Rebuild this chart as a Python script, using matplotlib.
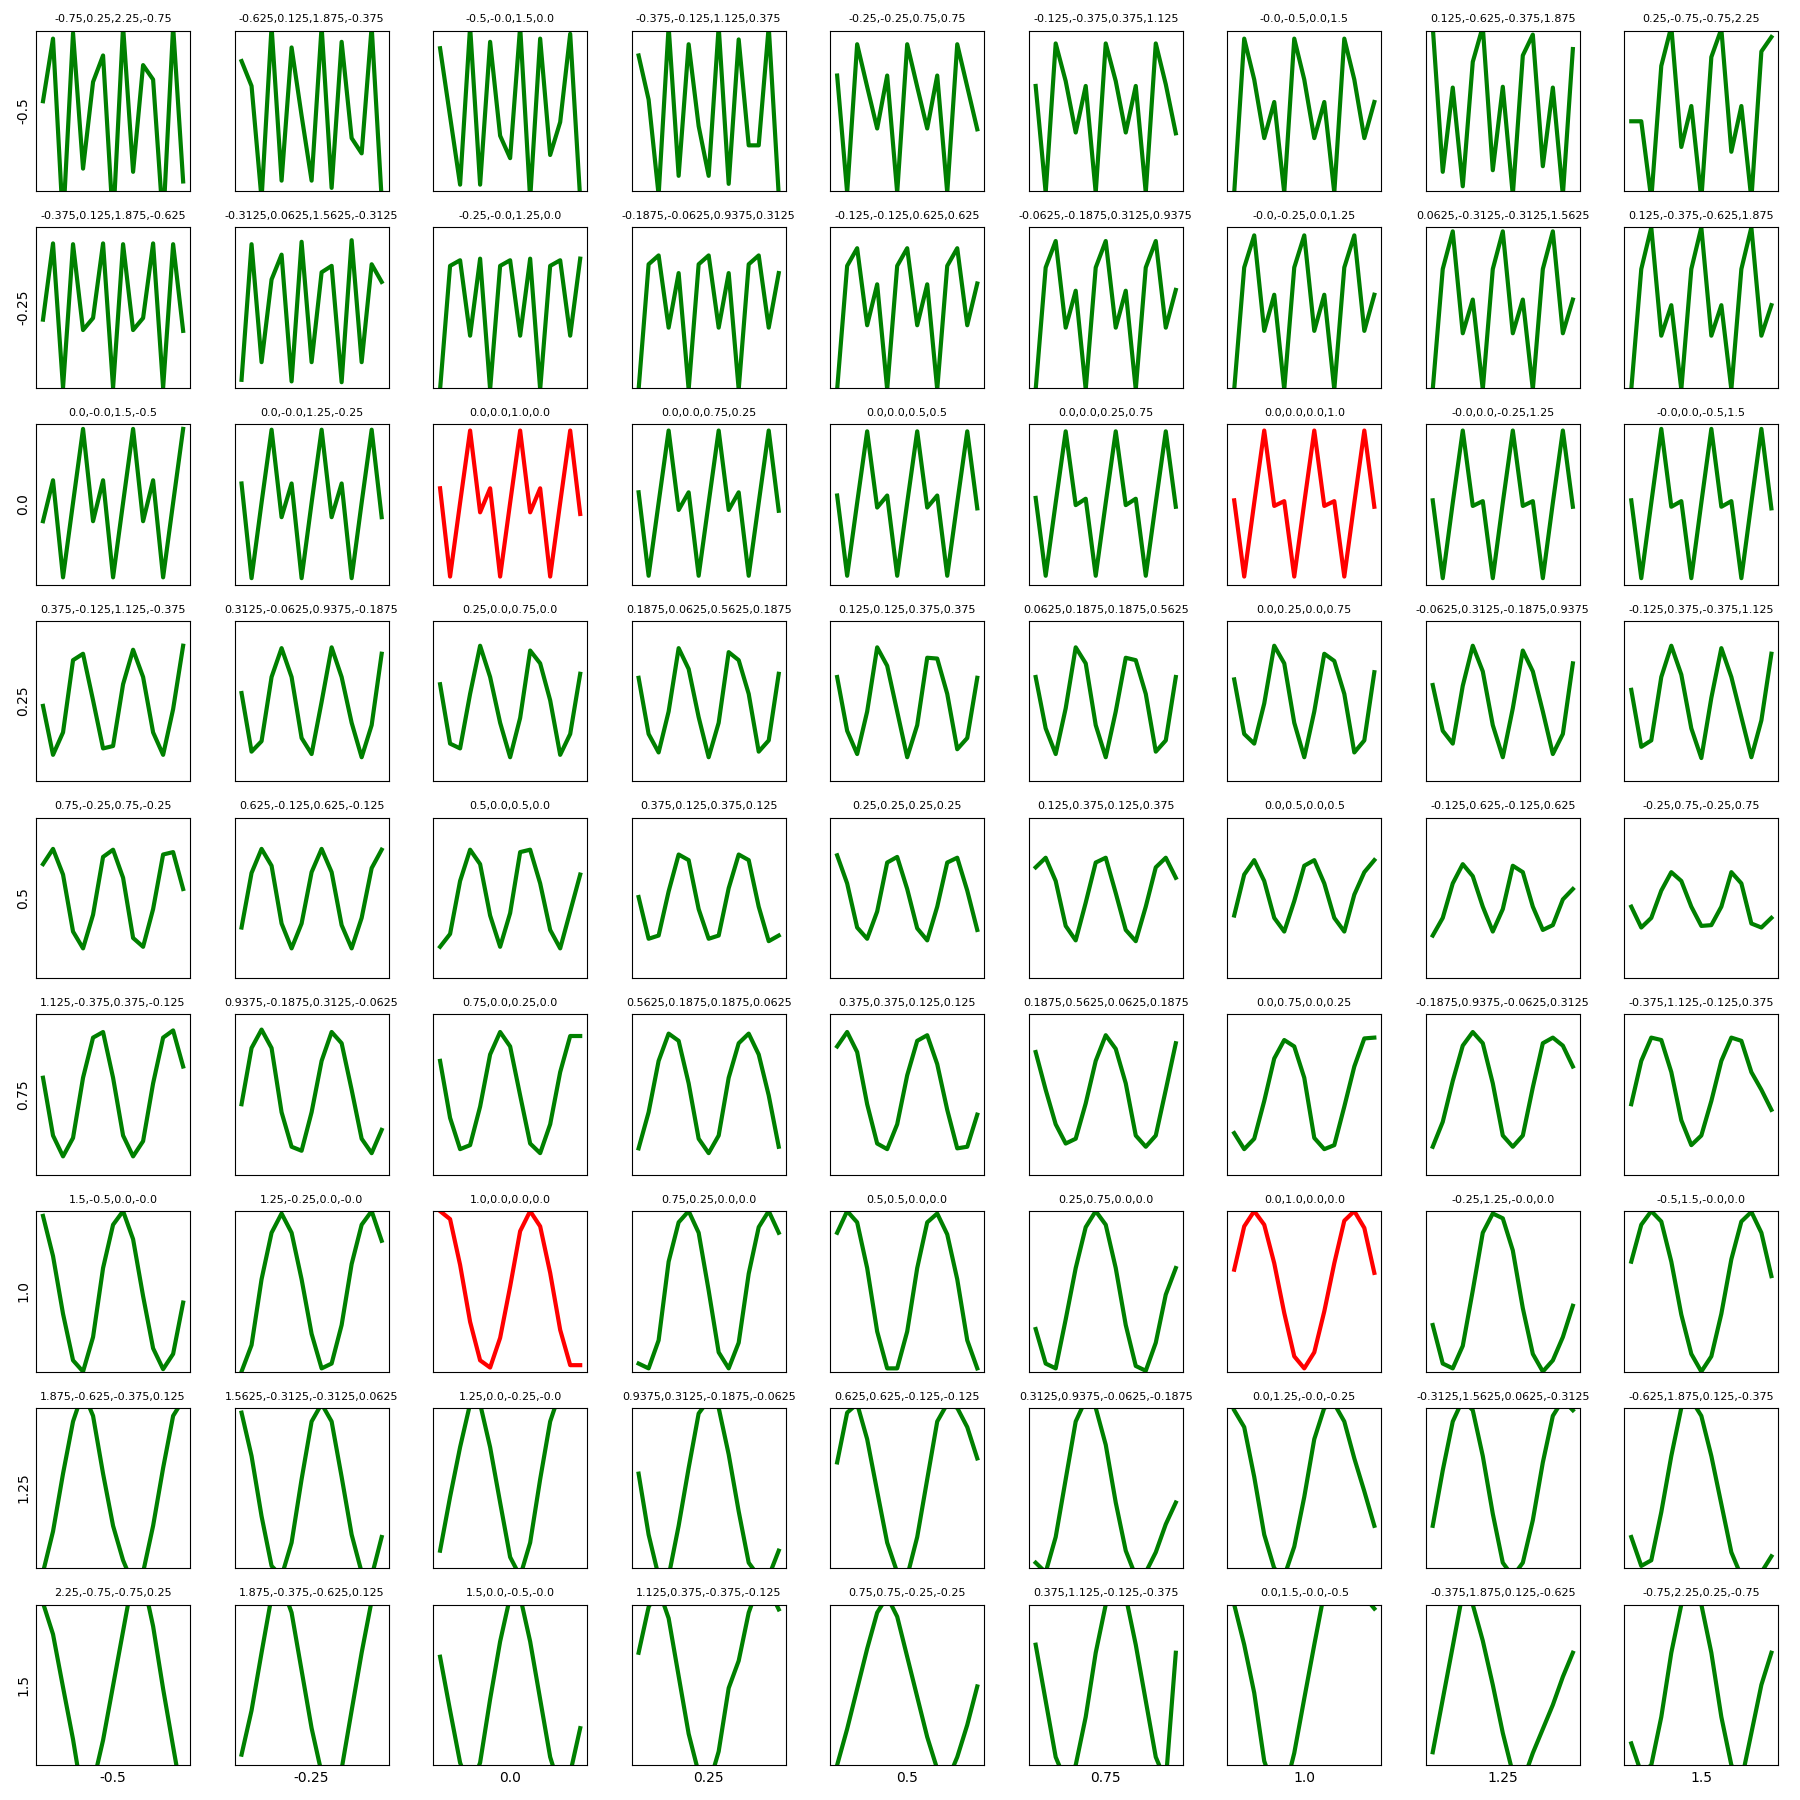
import matplotlib
matplotlib.use("Agg")
import matplotlib.pyplot as plt

# grid axis values (columns = x, rows = y)
grid_vals = ["-0.5", "-0.25", "0.0", "0.25", "0.5", "0.75", "1.0", "1.25", "1.5"]

titles = [
    ["-0.75,0.25,2.25,-0.75", "-0.625,0.125,1.875,-0.375", "-0.5,-0.0,1.5,0.0", "-0.375,-0.125,1.125,0.375",
     "-0.25,-0.25,0.75,0.75", "-0.125,-0.375,0.375,1.125", "-0.0,-0.5,0.0,1.5", "0.125,-0.625,-0.375,1.875",
     "0.25,-0.75,-0.75,2.25"],
    ["-0.375,0.125,1.875,-0.625", "-0.3125,0.0625,1.5625,-0.3125", "-0.25,-0.0,1.25,0.0", "-0.1875,-0.0625,0.9375,0.3125",
     "-0.125,-0.125,0.625,0.625", "-0.0625,-0.1875,0.3125,0.9375", "-0.0,-0.25,0.0,1.25", "0.0625,-0.3125,-0.3125,1.5625",
     "0.125,-0.375,-0.625,1.875"],
    ["0.0,-0.0,1.5,-0.5", "0.0,-0.0,1.25,-0.25", "0.0,0.0,1.0,0.0", "0.0,0.0,0.75,0.25", "0.0,0.0,0.5,0.5",
     "0.0,0.0,0.25,0.75", "0.0,0.0,0.0,1.0", "-0.0,0.0,-0.25,1.25", "-0.0,0.0,-0.5,1.5"],
    ["0.375,-0.125,1.125,-0.375", "0.3125,-0.0625,0.9375,-0.1875", "0.25,0.0,0.75,0.0", "0.1875,0.0625,0.5625,0.1875",
     "0.125,0.125,0.375,0.375", "0.0625,0.1875,0.1875,0.5625", "0.0,0.25,0.0,0.75", "-0.0625,0.3125,-0.1875,0.9375",
     "-0.125,0.375,-0.375,1.125"],
    ["0.75,-0.25,0.75,-0.25", "0.625,-0.125,0.625,-0.125", "0.5,0.0,0.5,0.0", "0.375,0.125,0.375,0.125",
     "0.25,0.25,0.25,0.25", "0.125,0.375,0.125,0.375", "0.0,0.5,0.0,0.5", "-0.125,0.625,-0.125,0.625",
     "-0.25,0.75,-0.25,0.75"],
    ["1.125,-0.375,0.375,-0.125", "0.9375,-0.1875,0.3125,-0.0625", "0.75,0.0,0.25,0.0", "0.5625,0.1875,0.1875,0.0625",
     "0.375,0.375,0.125,0.125", "0.1875,0.5625,0.0625,0.1875", "0.0,0.75,0.0,0.25", "-0.1875,0.9375,-0.0625,0.3125",
     "-0.375,1.125,-0.125,0.375"],
    ["1.5,-0.5,0.0,-0.0", "1.25,-0.25,0.0,-0.0", "1.0,0.0,0.0,0.0", "0.75,0.25,0.0,0.0", "0.5,0.5,0.0,0.0",
     "0.25,0.75,0.0,0.0", "0.0,1.0,0.0,0.0", "-0.25,1.25,-0.0,0.0", "-0.5,1.5,-0.0,0.0"],
    ["1.875,-0.625,-0.375,0.125", "1.5625,-0.3125,-0.3125,0.0625", "1.25,0.0,-0.25,-0.0", "0.9375,0.3125,-0.1875,-0.0625",
     "0.625,0.625,-0.125,-0.125", "0.3125,0.9375,-0.0625,-0.1875", "0.0,1.25,-0.0,-0.25", "-0.3125,1.5625,0.0625,-0.3125",
     "-0.625,1.875,0.125,-0.375"],
    ["2.25,-0.75,-0.75,0.25", "1.875,-0.375,-0.625,0.125", "1.5,0.0,-0.5,-0.0", "1.125,0.375,-0.375,-0.125",
     "0.75,0.75,-0.25,-0.25", "0.375,1.125,-0.125,-0.375", "0.0,1.5,-0.0,-0.5", "-0.375,1.875,0.125,-0.625",
     "-0.75,2.25,0.25,-0.75"],
]

# signals, one list per row (y), 9 series each
sig_y_m050 = [
    [0.12, 0.90, -1.40, 0.97, -0.72, 0.36, 0.69, -1.40, 1.05, -0.76, 0.57, 0.39, -1.40, 1.05, -0.88],
    [0.62, 0.31, -1.10, 1.05, -0.87, 0.79, -0.06, -0.87, 1.05, -0.96, 0.86, -0.34, -0.53, 1.05, -1.10],
    [0.78, -0.07, -0.92, 1.05, -0.92, 0.86, -0.31, -0.59, 1.05, -1.10, 0.90, -0.55, -0.14, 0.96, -1.10],
    [0.69, 0.14, -1.05, 1.05, -0.81, 0.83, -0.19, -0.81, 1.05, -0.91, 0.89, -0.43, -0.43, 1.05, -1.05],
    [0.44, -1.02, 0.83, 0.30, -0.22, 0.44, -1.02, 0.83, 0.30, -0.22, 0.44, -1.02, 0.83, 0.30, -0.23],
    [0.31, -1.02, 0.84, 0.37, -0.27, 0.31, -1.02, 0.84, 0.37, -0.27, 0.31, -1.02, 0.84, 0.33, -0.28],
    [-1.02, 0.90, 0.39, -0.34, 0.11, -1.02, 0.90, 0.39, -0.34, 0.11, -1.02, 0.90, 0.39, -0.34, 0.11],
    [1.05, -0.76, 0.29, -0.94, 0.61, 1.05, -0.74, 0.30, -1.05, 0.69, 0.95, -0.69, 0.29, -1.05, 0.77],
    [-0.13, -0.13, -1.10, 0.56, 1.05, -0.45, 0.06, -1.10, 0.67, 1.02, -0.51, 0.06, -1.10, 0.74, 0.92],
]
sig_y_m025 = [
    [-0.15, 0.80, -1.00, 0.79, -0.28, -0.13, 0.80, -1.00, 0.79, -0.28, -0.13, 0.80, -1.00, 0.79, -0.29],
    [-0.90, 0.79, -0.68, 0.35, 0.66, -0.92, 0.82, -0.68, 0.44, 0.52, -0.93, 0.84, -0.68, 0.54, 0.32],
    [-1.02, 0.52, 0.59, -0.35, 0.61, -1.02, 0.52, 0.59, -0.35, 0.61, -1.02, 0.52, 0.59, -0.35, 0.61],
    [-1.02, 0.54, 0.65, -0.25, 0.43, -1.02, 0.54, 0.65, -0.25, 0.43, -1.02, 0.54, 0.65, -0.25, 0.43],
    [-1.02, 0.52, 0.74, -0.22, 0.29, -1.02, 0.52, 0.74, -0.22, 0.29, -1.02, 0.52, 0.74, -0.22, 0.30],
    [-1.02, 0.50, 0.83, -0.25, 0.21, -1.02, 0.50, 0.83, -0.25, 0.21, -1.02, 0.50, 0.83, -0.25, 0.22],
    [-1.02, 0.50, 0.90, -0.29, 0.16, -1.02, 0.50, 0.90, -0.29, 0.16, -1.02, 0.50, 0.90, -0.29, 0.16],
    [-1.02, 0.48, 0.95, -0.32, 0.10, -1.02, 0.48, 0.95, -0.32, 0.10, -1.02, 0.48, 0.95, -0.32, 0.10],
    [-1.02, 0.48, 1.00, -0.35, 0.03, -1.02, 0.48, 1.00, -0.35, 0.03, -1.02, 0.48, 1.00, -0.35, 0.03],
]
sig_y_000 = [
    [-0.21, 0.30, -0.91, 0.02, 0.94, -0.21, 0.30, -0.91, 0.02, 0.94, -0.21, 0.30, -0.91, 0.02, 0.94],
    [0.26, -0.92, 0.02, 0.93, -0.16, 0.26, -0.92, 0.02, 0.93, -0.16, 0.26, -0.92, 0.02, 0.93, -0.16],
    [0.20, -0.90, 0.02, 0.92, -0.10, 0.20, -0.90, 0.02, 0.92, -0.10, 0.20, -0.90, 0.02, 0.92, -0.12],
    [0.15, -0.89, 0.02, 0.92, -0.07, 0.15, -0.89, 0.02, 0.92, -0.07, 0.15, -0.89, 0.02, 0.92, -0.08],
    [0.11, -0.89, 0.02, 0.91, -0.04, 0.11, -0.89, 0.02, 0.91, -0.04, 0.11, -0.89, 0.02, 0.91, -0.05],
    [0.08, -0.89, 0.02, 0.91, -0.01, 0.07, -0.89, 0.02, 0.91, -0.01, 0.07, -0.89, 0.02, 0.91, -0.03],
    [0.05, -0.90, 0.02, 0.92, -0.02, 0.04, -0.90, 0.02, 0.92, -0.02, 0.04, -0.90, 0.02, 0.92, -0.03],
    [0.05, -0.92, 0.02, 0.92, -0.02, 0.04, -0.92, 0.02, 0.92, -0.02, 0.04, -0.92, 0.02, 0.92, -0.03],
    [0.05, -0.92, 0.02, 0.94, -0.03, 0.04, -0.92, 0.02, 0.94, -0.03, 0.04, -0.92, 0.02, 0.94, -0.05],
]
sig_y_025 = [
    [-0.06, -0.67, -0.39, 0.51, 0.59, 0.01, -0.59, -0.56, 0.21, 0.64, 0.30, -0.39, -0.67, -0.10, 0.69],
    [0.10, -0.63, -0.50, 0.30, 0.66, 0.30, -0.46, -0.66, -0.01, 0.67, 0.30, -0.27, -0.70, -0.30, 0.59],
    [0.21, -0.53, -0.59, 0.09, 0.69, 0.30, -0.27, -0.70, -0.21, 0.63, 0.47, 0.01, -0.67, -0.41, 0.34],
    [0.29, -0.41, -0.64, -0.13, 0.66, 0.40, -0.20, -0.70, -0.27, 0.61, 0.51, 0.09, -0.63, -0.49, 0.34],
    [0.30, -0.37, -0.66, -0.13, 0.67, 0.44, -0.13, -0.70, -0.30, 0.54, 0.53, 0.09, -0.60, -0.46, 0.29],
    [0.30, -0.34, -0.66, -0.09, 0.67, 0.47, -0.30, -0.70, -0.13, 0.54, 0.51, 0.09, -0.63, -0.49, 0.30],
    [0.27, -0.41, -0.53, -0.03, 0.69, 0.47, -0.27, -0.70, -0.13, 0.59, 0.50, 0.09, -0.64, -0.49, 0.36],
    [0.20, -0.37, -0.53, 0.19, 0.69, 0.37, -0.30, -0.70, -0.09, 0.63, 0.37, -0.13, -0.66, -0.41, 0.47],
    [0.14, -0.57, -0.49, 0.30, 0.69, 0.33, -0.34, -0.71, 0.04, 0.66, 0.30, -0.20, -0.70, -0.24, 0.59],
]
sig_y_050 = [
    [0.42, 0.61, 0.29, -0.42, -0.63, -0.21, 0.51, 0.60, 0.25, -0.50, -0.61, -0.14, 0.54, 0.57, 0.11],
    [-0.37, 0.31, 0.61, 0.40, -0.32, -0.63, -0.32, 0.32, 0.61, 0.32, -0.34, -0.63, -0.25, 0.37, 0.60],
    [-0.61, -0.45, 0.21, 0.60, 0.42, -0.22, -0.61, -0.19, 0.57, 0.60, 0.18, -0.40, -0.63, -0.17, 0.29],
    [0.01, -0.51, -0.47, 0.08, 0.54, 0.47, -0.14, -0.51, -0.47, 0.12, 0.54, 0.47, -0.11, -0.54, -0.47],
    [0.53, 0.18, -0.37, -0.51, -0.17, 0.44, 0.51, 0.11, -0.38, -0.53, -0.11, 0.44, 0.50, 0.09, -0.40],
    [0.38, 0.50, 0.21, -0.35, -0.53, -0.06, 0.44, 0.50, 0.06, -0.40, -0.54, -0.11, 0.38, 0.50, 0.25],
    [-0.22, 0.29, 0.47, 0.21, -0.25, -0.42, -0.04, 0.40, 0.47, 0.18, -0.25, -0.42, 0.04, 0.32, 0.47],
    [-0.47, -0.25, 0.18, 0.42, 0.27, -0.11, -0.42, -0.14, 0.40, 0.32, -0.11, -0.40, -0.34, -0.02, 0.11],
    [-0.11, -0.37, -0.25, 0.09, 0.32, 0.21, -0.11, -0.35, -0.34, -0.11, 0.32, 0.18, -0.32, -0.37, -0.25],
]
sig_y_075 = [
    [0.21, -0.51, -0.77, -0.54, 0.21, 0.71, 0.78, 0.21, -0.51, -0.77, -0.58, 0.14, 0.71, 0.80, 0.35],
    [-0.12, 0.58, 0.81, 0.58, -0.22, -0.65, -0.70, -0.22, 0.42, 0.78, 0.64, 0.06, -0.55, -0.73, -0.44],
    [0.42, -0.29, -0.68, -0.63, -0.15, 0.50, 0.78, 0.60, -0.01, -0.61, -0.73, -0.37, 0.28, 0.73, 0.73],
    [-0.67, -0.22, 0.42, 0.76, 0.67, 0.14, -0.55, -0.73, -0.51, 0.21, 0.64, 0.76, 0.50, -0.01, -0.65],
    [0.60, 0.78, 0.53, -0.12, -0.61, -0.68, -0.37, 0.24, 0.67, 0.74, 0.38, -0.19, -0.67, -0.65, -0.25],
    [0.53, 0.06, -0.37, -0.61, -0.55, -0.11, 0.42, 0.74, 0.57, 0.14, -0.51, -0.65, -0.51, 0.06, 0.64],
    [-0.48, -0.68, -0.55, -0.08, 0.45, 0.68, 0.60, 0.21, -0.54, -0.68, -0.63, -0.15, 0.35, 0.70, 0.71],
    [-0.65, -0.34, 0.17, 0.61, 0.78, 0.64, 0.14, -0.51, -0.65, -0.51, 0.09, 0.64, 0.71, 0.61, 0.35],
    [-0.12, 0.42, 0.71, 0.68, 0.28, -0.32, -0.63, -0.51, -0.08, 0.42, 0.71, 0.67, 0.28, 0.06, -0.19],
]
sig_y_100 = [
    [0.94, 0.44, -0.28, -0.86, -1.00, -0.57, 0.29, 0.83, 1.00, 0.65, -0.06, -0.71, -0.97, -0.78, -0.14],
    [-1.00, -0.67, 0.15, 0.73, 0.97, 0.73, 0.15, -0.53, -0.96, -0.90, -0.42, 0.34, 0.83, 1.00, 0.63],
    [1.00, 0.90, 0.33, -0.38, -0.86, -0.95, -0.58, 0.06, 0.75, 1.00, 0.81, 0.23, -0.48, -0.92, -0.92],
    [-0.90, -0.96, -0.61, 0.37, 0.86, 1.00, 0.73, 0.01, -0.76, -0.96, -0.64, 0.22, 0.80, 1.00, 0.73],
    [0.73, 1.00, 0.86, 0.29, -0.50, -0.96, -0.96, -0.50, 0.29, 0.86, 0.97, 0.71, 0.15, -0.61, -0.96],
    [-0.47, -0.90, -0.96, -0.35, 0.29, 0.80, 1.00, 0.83, 0.29, -0.42, -0.93, -0.99, -0.64, -0.04, 0.29],
    [0.27, 0.81, 1.00, 0.83, 0.35, -0.27, -0.81, -0.96, -0.76, -0.25, 0.35, 0.88, 1.00, 0.79, 0.23],
    [-0.42, -0.90, -0.96, -0.68, 0.01, 0.73, 0.97, 0.91, 0.51, -0.21, -0.78, -1.00, -0.86, -0.57, -0.18],
    [0.37, 0.83, 1.00, 0.87, 0.37, -0.29, -0.78, -1.00, -0.81, -0.28, 0.40, 0.87, 0.99, 0.73, 0.19],
]
sig_y_125 = [
    [-1.05, -0.54, 0.18, 0.83, 1.20, 0.90, 0.18, -0.47, -0.90, -1.20, -1.05, -0.47, 0.25, 0.90, 1.10],
    [0.94, 0.40, -0.35, -0.97, -1.10, -0.68, 0.11, 0.83, 1.05, 0.83, 0.14, -0.58, -1.05, -1.10, -0.61],
    [-0.78, -0.11, 0.51, 1.05, 1.05, 0.51, -0.18, -0.86, -1.10, -0.68, 0.11, 0.83, 1.20, 1.25, 1.10],
    [0.18, -0.58, -1.10, -1.10, -0.47, 0.25, 0.93, 1.10, 1.00, 0.42, -0.29, -0.93, -1.10, -1.10, -0.78],
    [0.32, 0.94, 1.05, 0.61, -0.04, -0.68, -1.05, -1.10, -0.61, 0.11, 0.83, 1.05, 1.00, 0.76, 0.37],
    [-0.93, -1.05, -0.61, 0.11, 0.83, 1.10, 1.00, 0.54, -0.18, -0.78, -1.10, -1.05, -0.80, -0.45, -0.18],
    [0.97, 0.76, 0.14, -0.58, -1.00, -1.10, -0.73, -0.11, 0.61, 1.00, 1.05, 0.83, 0.37, -0.04, -0.47],
    [-0.47, 0.22, 0.83, 1.10, 0.97, 0.40, -0.32, -0.93, -1.10, -0.93, -0.40, 0.32, 0.90, 1.10, 0.97],
    [-0.61, -0.97, -0.90, -0.30, 0.40, 1.00, 1.10, 0.90, 0.40, -0.20, -0.80, -1.10, -1.20, -1.05, -0.85],
]
sig_y_150 = [
    [1.02, 0.63, -0.03, -0.68, -1.44, -1.23, -0.69, -0.01, 0.67, 1.35, 1.31, 0.73, -0.05, -0.77, -1.48],
    [-0.87, -0.32, 0.40, 1.10, 1.25, 0.90, 0.18, -0.54, -1.10, -1.30, -1.05, -0.32, 0.40, 1.05, 1.25],
    [0.35, -0.32, -0.97, -1.30, -0.97, -0.18, 0.54, 1.10, 1.10, 0.54, -0.18, -0.90, -1.30, -1.10, -0.54],
    [0.40, 0.97, 1.19, 0.83, 0.11, -0.61, -1.10, -1.26, -0.83, -0.04, 0.30, 0.90, 1.25, 1.20, 0.94],
    [-1.00, -0.55, -0.05, 0.45, 0.90, 1.10, 0.85, 0.35, -0.15, -0.65, -1.05, -1.20, -0.90, -0.50, -0.02],
    [0.50, -0.20, -0.90, -1.20, -1.00, -0.40, 0.40, 1.00, 1.20, 1.10, 0.50, -0.20, -0.90, -1.20, 0.40],
    [1.00, 0.50, -0.10, -0.95, -1.30, -1.35, -0.85, -0.17, 0.50, 1.15, 1.40, 1.45, 1.35, 1.10, 0.95],
    [-0.84, -0.18, 0.48, 1.15, 1.00, 0.55, 0.00, -0.60, -1.10, -1.20, -0.85, -0.55, -0.25, 0.10, 0.40],
    [-0.73, -1.10, -1.00, -0.40, 0.40, 1.00, 1.20, 1.00, 0.40, -0.40, -1.00, -1.20, -0.60, 0.00, 0.40],
]

signals = [sig_y_m050, sig_y_m025, sig_y_000, sig_y_025, sig_y_050,
           sig_y_075, sig_y_100, sig_y_125, sig_y_150]

# the four corner series are shown in red
red_cells = [(2, 2), (2, 6), (6, 2), (6, 6)]

fig, axes = plt.subplots(9, 9, figsize=(18, 18), dpi=100)
fig.subplots_adjust(left=0.02, right=0.988, bottom=0.0194, top=0.983,
                    wspace=0.288, hspace=0.226)

for r in range(9):
    for c in range(9):
        ax = axes[r, c]
        col = 'red' if (r, c) in red_cells else 'green'
        ax.plot(signals[r][c], color=col, linewidth=3)
        ax.set_ylim(-1, 1)
        ax.set_xticks([])
        ax.set_yticks([])
        ax.set_title(titles[r][c], fontsize=8)
        if c == 0:
            ax.set_ylabel(grid_vals[r], fontsize=10)
        if r == 8:
            ax.set_xlabel(grid_vals[c], fontsize=10)

fig.savefig("out.png")
